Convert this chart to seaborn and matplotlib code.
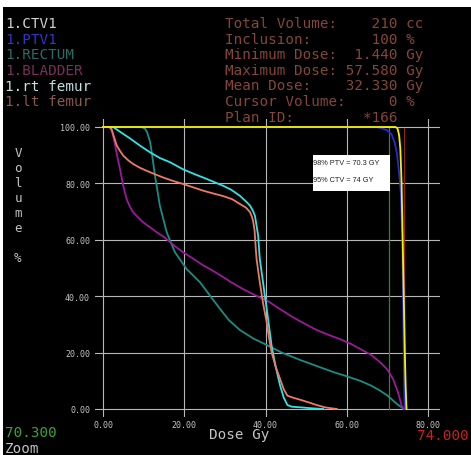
import numpy as np
import pandas as pd
import matplotlib
matplotlib.use("Agg")
import matplotlib.pyplot as plt
import seaborn as sns
from matplotlib.patches import Rectangle

# ---------------- data ----------------
structures = ["1.CTV1", "1.PTV1", "1.RECTUM", "1.BLADDER", "1.rt femur", "1.lt femur"]

ctv_dose = [0, 60, 72.0, 72.5, 72.9, 73.2, 73.5, 73.7, 73.9, 74.1, 74.3, 74.5, 74.7]
ctv_vol = [100, 100, 100, 99.5, 97, 92, 80, 65, 50, 35, 20, 8, 0]

ptv_dose = [0, 60, 67.0, 68.5, 70.0, 71.0, 71.8, 72.3, 72.6, 73.0, 73.3, 73.5, 73.7,
            73.8, 73.9, 74.0, 74.1, 74.2, 74.3]
ptv_vol = [100, 100, 100, 99.6, 98.8, 97.5, 94.5, 91, 87.6, 82, 77, 68, 59,
           47, 35.5, 23, 11.7, 5, 0]

rectum_dose = [0, 9.5, 10.3, 10.9, 11.3, 11.6, 12.0, 12.8, 14.0, 15.7, 17.7, 20.6, 23.9,
               26.7, 28.8, 31.0, 33.7, 37.0, 40.3, 44.0, 48.5, 52.5, 56.7, 60.0, 63.3,
               66.0, 68.2, 70.0, 71.4, 72.6, 73.5, 74.0]
rectum_vol = [100, 100, 99.5, 98, 96, 94.7, 91, 82.7, 72.1, 62.6, 55.6, 49.6, 44.9,
              39.5, 35.5, 31.5, 28, 25, 22.7, 20, 17.4, 15.3, 13.1, 11.6, 10,
              8.3, 6.5, 4.8, 3, 1.5, 0.6, 0]

bladder_dose = [0, 1.7, 2.3, 3.0, 3.6, 4.2, 5.0, 5.8, 6.6, 7.4, 8.6, 9.9, 11.5, 13.2,
                15.0, 16.5, 18.0, 19.7, 22.0, 24.6, 26.7, 28.8, 31.5, 34.5, 37.5, 40.3,
                43.5, 46.8, 49.7, 52.6, 55.5, 58.3, 61.0, 63.3, 66.0, 68.2, 70.0, 71.4,
                72.6, 73.5, 74.0]
bladder_vol = [100, 100, 98, 93.4, 89, 85, 79, 74.5, 71.8, 69.8, 68, 66.2, 64.5, 62.7,
               61, 59.2, 57.4, 55.6, 53.5, 51, 49.3, 47.5, 45, 42.5, 40.3, 38.5,
               35.5, 32.5, 30.2, 28, 26.3, 24.8, 23.1, 21.3, 19.2, 16.6, 14, 10.6,
               6, 1.2, 0]

rtfem_dose = [0, 2.5, 4.0, 6.6, 9.0, 11.6, 14.0, 16.5, 19.7, 22.5, 25.5, 29.5, 31.5,
              33.7, 35.2, 36.2, 36.9, 37.4, 37.8, 38.2, 38.4, 38.6, 39.0, 39.4, 39.8,
              40.3, 40.9, 41.5, 42.5, 43.6, 44.5, 45.4, 46.5, 48.5, 51.0, 54.2]
rtfem_vol = [100, 100, 98.5, 96, 93.5, 91, 89, 87.5, 85, 83.3, 81.6, 79.2, 77.8,
             75.6, 73.6, 72.1, 70.3, 68.5, 65, 61.4, 57, 53.2, 49, 44.9, 40.5,
             35.5, 29, 22.5, 15, 8.3, 4, 1.4, 0.8, 0.6, 0.3, 0]

ltfem_dose = [0, 1.5, 2.1, 2.7, 3.4, 4.2, 5.0, 6.2, 7.4, 9.0, 10.7, 12.7, 14.8, 17.2,
              19.7, 22.2, 24.7, 27.2, 29.6, 31.8, 33.7, 35.2, 36.2, 36.7, 37.0, 37.3,
              37.4, 37.6, 37.8, 38.2, 38.6, 39.4, 40.3, 40.9, 41.5, 42.5, 43.6, 44.5,
              45.4, 46.8, 48.5, 50.5, 52.6, 54.6, 56.0, 57.58]
ltfem_vol = [100, 100, 99.3, 96.5, 93.4, 91.5, 89.8, 88.2, 86.9, 85.6, 84.5, 83.3, 82.1,
             80.9, 79.8, 78.6, 77.4, 76.4, 75.5, 74.4, 72.7, 71.4, 69.8, 68, 66.2, 63.5,
             61.4, 57, 53.2, 49, 44.9, 37.5, 30.7, 25, 20.1, 15, 10.6, 7,
             4.7, 4, 3.3, 2.4, 1.4, 0.6, 0.3, 0]

line_colors = ["#f2f200", "#2a2ad0", "#1c8c84", "#9a1a9a", "#30e4e4", "#ee7a66"]
label_colors = ["#d0d0d0", "#3434c8", "#2c6a66", "#7a3058", "#c4e0e0", "#8a5a4c"]

x_ticks = [0, 20, 40, 60, 80]
y_ticks = [0, 20, 40, 60, 80, 100]

stat_lines = ["Total Volume:    210 cc",
              "Inclusion:       100 %",
              "Minimum Dose:  1.440 Gy",
              "Maximum Dose: 57.580 Gy",
              "Mean Dose:    32.330 Gy",
              "Cursor Volume:     0 %",
              "Plan ID:        *166"]

cursor_low = 70.3
cursor_high = 74.0
note_lines = ["98% PTV = 70.3 GY", "95% CTV = 74 GY"]

# ---------------- build table ----------------
series = [(ctv_dose, ctv_vol), (ptv_dose, ptv_vol), (rectum_dose, rectum_vol),
          (bladder_dose, bladder_vol), (rtfem_dose, rtfem_vol), (ltfem_dose, ltfem_vol)]
frames = []
for name, (d, v) in zip(structures, series):
    frames.append(pd.DataFrame({"dose": d, "volume": v, "structure": name}))
df = pd.concat(frames, ignore_index=True)

# ---------------- figure ----------------
W, H = 471, 456
fig = plt.figure(figsize=(W / 100, H / 100), dpi=100, facecolor="white")
fig.patches.append(Rectangle((3 / W, 0), 1, 1 - 8 / H, transform=fig.transFigure,
                             facecolor="black", edgecolor="none", zorder=-10))


def fx(x):
    return x / W


def fy(y):
    return 1 - y / H


# axes placement: x 0->103px, 80->428px ; y 0->410px, 100->128px
xpp = (428 - 103) / 80.0
ypp = (410 - 128) / 100.0
xmin, xmax = -2.0, 83.0
ymin, ymax = -3.0, 103.0
left = 103 + xmin * xpp
right = 103 + xmax * xpp
top = 410 - ymax * ypp
bottom = 410 - ymin * ypp
ax = fig.add_axes([fx(left), fy(bottom), (right - left) / W, (bottom - top) / H])
ax.set_facecolor("none")

sns.lineplot(data=df, x="dose", y="volume", hue="structure", hue_order=structures,
             palette=line_colors, sort=False, estimator=None,
             linewidth=1.3, legend=False, ax=ax, zorder=3)
for ln in ax.lines:
    ln.set_solid_joinstyle("round")
ax.lines[0].set_zorder(5)

ax.set_xlim(xmin, xmax)
ax.set_ylim(ymin, ymax)
ax.set_xticks(x_ticks)
ax.set_yticks(y_ticks)
ax.set_xticklabels([f"{t:.2f}" for t in x_ticks])
ax.set_yticklabels([f"{t:.2f}" for t in y_ticks])
for s in ax.spines.values():
    s.set_visible(False)
ax.grid(True, color="#b8b8b8", linewidth=0.8)
ax.set_axisbelow(True)
ax.tick_params(length=0, colors="#c4c4c4", labelsize=6.0, pad=3.5)
ax.tick_params(axis="x", pad=1.5)
for lab in ax.get_xticklabels() + ax.get_yticklabels():
    lab.set_family("DejaVu Sans Mono")
ax.set_xlabel("")
ax.set_ylabel("")

# cursor lines
ax.axvline(cursor_low, ymin=(0 - ymin) / (ymax - ymin), ymax=(99.5 - ymin) / (ymax - ymin),
           color="#3c7e3c", linewidth=0.9, zorder=2)
ax.axvline(cursor_high, ymin=(0 - ymin) / (ymax - ymin), ymax=(99.5 - ymin) / (ymax - ymin),
           color="#8c2222", linewidth=0.9, zorder=2)

# annotation box
ax.add_patch(Rectangle((51.7, 77.3), 18.9, 12.8, facecolor="white", edgecolor="none", zorder=6))
ax.text(51.8, 87.5, note_lines[0], fontsize=5.3, family="Liberation Sans", color="#222222",
        va="center", ha="left", zorder=7)
ax.text(51.8, 81.5, note_lines[1], fontsize=5.3, family="Liberation Sans", color="#222222",
        va="center", ha="left", zorder=7)

mono = "DejaVu Sans Mono"
fs = 10.3
# left structure list
for i, (name, c) in enumerate(zip(structures, label_colors)):
    fig.text(fx(5), fy(24 + i * 15.7), name, color=c, fontsize=fs, family=mono,
             va="center", ha="left")

# stats block
for i, line in enumerate(stat_lines):
    fig.text(fx(225), fy(24 + i * 15.6), line, color="#86463c", fontsize=fs, family=mono,
             va="center", ha="left")

# vertical axis title
fig.text(fx(18), fy(206), "V\no\nl\nu\nm\ne\n\n%", color="#c4c4c4", fontsize=9.0, family=mono,
         va="center", ha="center", linespacing=1.2)

# bottom texts
fig.text(fx(239), fy(435), "Dose Gy", color="#c4c4c4", fontsize=fs, family=mono,
         va="center", ha="center")
fig.text(fx(5), fy(433), f"{cursor_low:.3f}", color="#3ea03e", fontsize=fs, family=mono,
         va="center", ha="left")
fig.text(fx(417), fy(436), f"{cursor_high:.3f}", color="#c42222", fontsize=fs, family=mono,
         va="center", ha="left")
fig.text(fx(5), fy(449), "Zoom", color="#c4c4c4", fontsize=fs, family=mono,
         va="center", ha="left")

fig.savefig("out.png", dpi=100, facecolor="white")
